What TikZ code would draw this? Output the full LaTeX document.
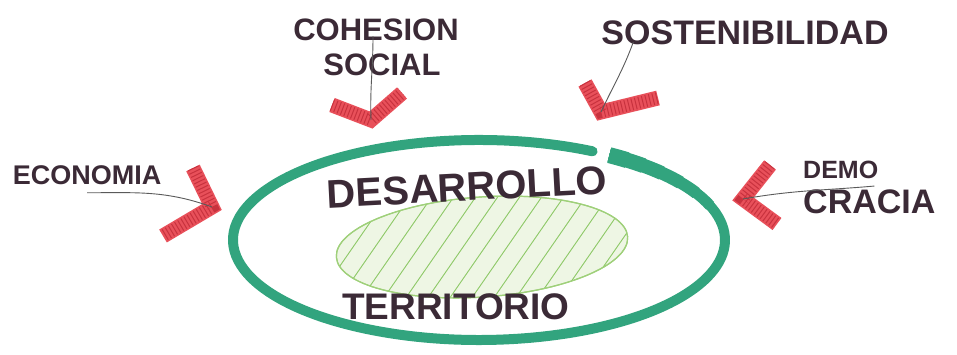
\documentclass[tikz,border=0pt]{standalone}
\usepackage{fontspec}
\usepackage{xcolor}
\usepackage{tikz}
\usetikzlibrary{positioning, calc}
\newfontfamily\handfont{Liberation Sans}
\definecolor{ringgreen}{HTML}{32A47E}
\definecolor{corefill}{HTML}{EEF6E4}
\definecolor{coreedge}{HTML}{9FD07A}
\definecolor{corehatch}{HTML}{8DC866}
\definecolor{chevred}{HTML}{E8505A}
\definecolor{chevdark}{HTML}{C8323E}
\definecolor{ink}{HTML}{3B2A36}
\definecolor{leadgray}{HTML}{5A5A5A}
\tikzset{
    word/.style={font=\handfont\bfseries\fontsize{#1}{#1}\selectfont, text=ink, inner sep=1pt},
    ring/.style={draw=ringgreen, line width=10pt, line cap=round},
    core/.style={draw=coreedge, fill=corefill, line width=1.2pt},
    hatch/.style={draw=corehatch, line width=0.9pt},
    chevron/.style={draw=chevred, line width=15pt, line join=miter, postaction={draw=chevdark, line width=12pt, dash pattern=on 1pt off 2.6pt}},
    leader/.style={draw=leadgray, line width=0.9pt},
}

\begin{document}
\begin{tikzpicture}[x=1pt, y=1pt, node distance=0.9cm]
    \useasboundingbox (0,0) rectangle (957,355);

    \draw[ring] (479,115) ++(62.5:246 and 100) arc[start angle=62.5, end angle=410, x radius=246, y radius=100];
    \foreach \w/\a in {11/20, 12/28, 13/35, 14/42, 15/48, 16/53}
        \draw[ring, line width=\w pt, line cap=butt] (479,115) ++(58:246 and 100) arc[start angle=58, end angle=\a, x radius=246, y radius=100];

    \draw[core, rotate around={4:(482,108)}] (482,108) ellipse[x radius=146, y radius=50];
    \begin{scope}
        \clip[rotate around={4:(482,108)}] (482,108) ellipse[x radius=146, y radius=50];
        \foreach \x in {262,284,...,640}
            \draw[hatch] (\x,40) -- ++(90,130);
    \end{scope}
    \draw[draw=coreedge, line width=1.2pt, rotate around={4:(482,108)}] (482,108) ellipse[x radius=146, y radius=50];

    \node[word=40, rotate=3] (desarrollo) at (467,168) {DESARROLLO};

    \node[word=37] (territorio) at (456,48) {TERRITORIO};

    \node[word=31] (cohesion) at (376,325) {COHESION};

    \node[word=31, below=10pt of cohesion, xshift=6pt] (social) {SOCIAL};

    \node[word=34] (sost) at (745,322) {SOSTENIBILIDAD};

    \node[word=27] (econ) at (87,180) {ECONOMIA};

    \node[word=25, anchor=west] (demo) at (802,185) {DEMO};

    \node[word=34, below right=9pt and 0pt of demo.south west] (cracia) {CRACIA};

    \coordinate (vcoh) at (371,235);
    \coordinate (vsost) at (601,243);
    \coordinate (vecon) at (212,148);
    \coordinate (vdemo) at (743,156);

    \draw[chevron] (332,250) -- (vcoh) -- (402,262);
    \draw[chevron] (585,272) -- (vsost) -- (658,257);
    \draw[chevron] (193,187) -- (vecon) -- (163,119);
    \draw[chevron] (770,190) -- (vdemo) -- (777,131);

    \draw[leader] (cohesion.south) ++(-3,6) to[out=-90, in=92] (vcoh);
    \draw[leader] (sost.south west) ++(33,4) to[out=-110, in=65] (vsost);
    \draw[leader] (econ.south) ++(0,-7) to[out=0, in=160] (vecon);
    \draw[leader] (demo.south east) ++(-5,-6) to[out=185, in=10] (vdemo);
\end{tikzpicture}
\end{document}
